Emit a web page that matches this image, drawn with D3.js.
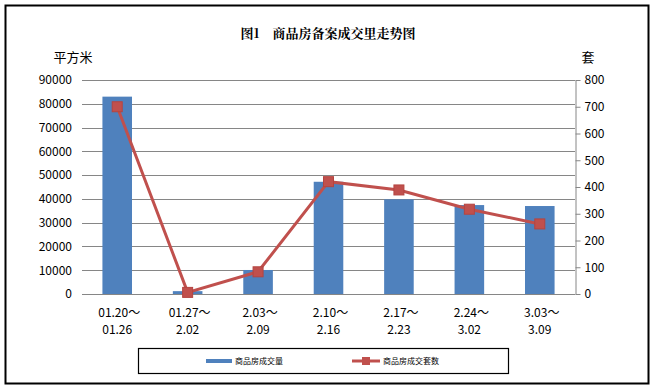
<!DOCTYPE html>
<html>
<head>
<meta charset="utf-8">
<script src="https://cdn.jsdelivr.net/npm/d3@7"></script>
<style>
  body { margin: 0; background: #fff; }
  svg text { font-family: SimSun, "Noto Sans CJK SC", sans-serif; }
</style>
</head>
<body>
<div id="container"></div>
<script>
// categories (two-line labels)
const weeksTop = ["01.20～", "01.27～", "2.03～", "2.10～", "2.17～", "2.24～", "3.03～"];
const weeksBottom = ["01.26", "2.02", "2.09", "2.16", "2.23", "3.02", "3.09"];
// series
const area = [83000, 1200, 10100, 47200, 39800, 37400, 37000];   // 商品房成交量 (平方米)
const units = [700, 6, 83, 420, 389, 317, 262];                  // 商品房成交套数 (套)
const leftTicks = [0, 10000, 20000, 30000, 40000, 50000, 60000, 70000, 80000, 90000];
const rightTicks = [0, 100, 200, 300, 400, 500, 600, 700, 800];

const w = 653, h = 385;
const plot = { left: 82, right: 575, top: 80, bottom: 294 };
const blue = "#4F81BD", red = "#C0504D", grid = "#868686";

const svg = d3.select("#container").append("svg")
  .attr("width", w).attr("height", h);

//frame
svg.append("rect")
  .attr("x", 5.5).attr("y", 5.5)
  .attr("width", 643).attr("height", 378)
  .attr("fill", "none").attr("stroke", "#000").attr("stroke-width", 2);

//title
svg.append("text")
  .attr("x", 328).attr("y", 38)
  .attr("text-anchor", "middle")
  .attr("font-size", 13).attr("font-weight", "bold")
  .style("font-family", "'Noto Serif CJK SC', 'Noto Sans CJK SC', serif")
  .text("图1　商品房备案成交里走势图");

//SCALES
const x = d3.scaleBand().domain(weeksTop.map((d, i) => i))
  .range([plot.left, plot.right]).paddingInner(0.58).paddingOuter(0.29);
const xc = i => x(i) + x.bandwidth() / 2;
const yL = d3.scaleLinear().domain([0, 90000]).range([plot.bottom, plot.top]);
const yR = d3.scaleLinear().domain([0, 800]).range([plot.bottom, plot.top]);

//gridlines
svg.append("g").selectAll("line")
  .data(leftTicks.slice(1))
  .enter().append("line")
  .attr("x1", plot.left).attr("x2", plot.right)
  .attr("y1", d => Math.round(yL(d)) + 0.5).attr("y2", d => Math.round(yL(d)) + 0.5)
  .attr("stroke", grid);

//left axis labels
const leftAxis = svg.append("g")
  .attr("transform", `translate(${plot.left},0)`)
  .call(d3.axisLeft(yL).tickValues(leftTicks).tickFormat(d3.format("d")).tickSize(0).tickPadding(10));
leftAxis.select(".domain").remove();
leftAxis.selectAll("text").attr("font-size", 12).attr("fill", "#000");

//right axis
const rightAxis = svg.append("g")
  .attr("transform", `translate(${plot.right + 0.5},0)`)
  .call(d3.axisRight(yR).tickValues(rightTicks).tickSize(5).tickSizeOuter(0).tickPadding(4));
rightAxis.select(".domain").attr("stroke", grid);
rightAxis.selectAll(".tick line").attr("stroke", grid);
rightAxis.selectAll("text").attr("font-size", 12).attr("fill", "#000");

//unit labels
svg.append("text").attr("x", 73).attr("y", 62).attr("text-anchor", "middle")
  .attr("font-size", 13).text("平方米");
svg.append("text").attr("x", 588).attr("y", 62).attr("text-anchor", "middle")
  .attr("font-size", 13).text("套");

//bars
svg.append("g").selectAll("rect")
  .data(area)
  .enter().append("rect")
  .attr("x", (d, i) => x(i))
  .attr("y", d => yL(d))
  .attr("width", x.bandwidth())
  .attr("height", d => plot.bottom - yL(d))
  .attr("fill", blue);

//bottom axis line
svg.append("line")
  .attr("x1", plot.left).attr("x2", plot.right)
  .attr("y1", plot.bottom + 0.5).attr("y2", plot.bottom + 0.5)
  .attr("stroke", grid);

//x labels
const xl = svg.append("g");
xl.selectAll(".top").data(weeksTop).enter().append("text")
  .attr("x", (d, i) => xc(i) + 2).attr("y", 317)
  .attr("text-anchor", "middle").attr("font-size", 12).text(d => d);
xl.selectAll(".bot").data(weeksBottom).enter().append("text")
  .attr("x", (d, i) => xc(i)).attr("y", 334)
  .attr("text-anchor", "middle").attr("font-size", 12).text(d => d);

//line
const line = d3.line().x((d, i) => xc(i)).y(d => yR(d));
svg.append("path")
  .datum(units)
  .attr("d", line)
  .attr("fill", "none").attr("stroke", red).attr("stroke-width", 3);
svg.append("g").selectAll("rect")
  .data(units)
  .enter().append("rect")
  .attr("x", (d, i) => xc(i) - 5).attr("y", d => yR(d) - 5)
  .attr("width", 10).attr("height", 10)
  .attr("fill", red).attr("stroke", "#b54440");

//legend
const legend = svg.append("g");
legend.append("rect")
  .attr("x", 138.5).attr("y", 348.5).attr("width", 370).attr("height", 25)
  .attr("fill", "none").attr("stroke", "#000").attr("stroke-width", 1.2);
legend.append("line")
  .attr("x1", 206).attr("x2", 232).attr("y1", 361).attr("y2", 361)
  .attr("stroke", blue).attr("stroke-width", 4);
legend.append("text").attr("x", 235).attr("y", 364)
  .attr("font-size", 8).text("商品房成交量");
legend.append("line")
  .attr("x1", 352).attr("x2", 380).attr("y1", 361).attr("y2", 361)
  .attr("stroke", red).attr("stroke-width", 3);
legend.append("rect")
  .attr("x", 362).attr("y", 357).attr("width", 8).attr("height", 8)
  .attr("fill", red);
legend.append("text").attr("x", 383).attr("y", 364)
  .attr("font-size", 8).text("商品房成交套数");
</script>
</body>
</html>
